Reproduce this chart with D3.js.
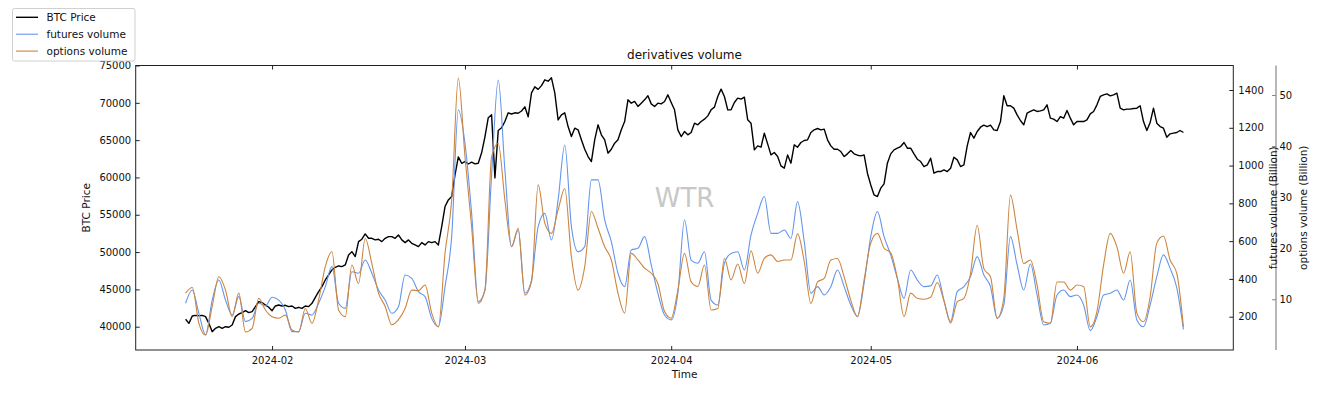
<!DOCTYPE html>
<html>
<head>
<meta charset="utf-8">
<script src="https://cdn.jsdelivr.net/npm/d3@7"></script>
<style>
body { margin: 0; background: #fff; }
svg { display: block; font-family: "DejaVu Sans", sans-serif; }
</style>
</head>
<body>
<div id="canvas"></div>
<script>
// daily volume series start on this day, BTC price is sampled every 12 hours
var START_DAY = '2024-01-19';

var futuresVolume = [
    271, 341, 218, 103, 288, 394, 288, 209, 306, 174,
    191, 271, 257, 303, 288, 235, 121, 121, 218, 209,
    271, 359, 465, 271, 244, 438, 430, 500, 430, 341,
    288, 218, 253, 421, 403, 333, 306, 191, 147, 359,
    624, 1294, 1118, 747, 280, 341, 950, 1453, 977, 571,
    659, 324, 394, 677, 747, 606, 818, 1109, 677, 544,
    571, 924, 924, 712, 597, 430, 359, 553, 562, 624,
    474, 324, 209, 183, 324, 712, 500, 483, 544, 288,
    262, 483, 535, 544, 447, 633, 747, 836, 641, 641,
    659, 615, 809, 597, 324, 359, 315, 359, 447, 359,
    262, 200, 377, 624, 756, 624, 527, 403, 297, 447,
    394, 359, 363, 421, 288, 174, 333, 359, 412, 518,
    421, 359, 191, 262, 624, 474, 341, 479, 315, 156,
    165, 315, 341, 306, 315, 262, 126, 200, 315, 324,
    341, 288, 394, 183, 147, 262, 412, 527, 456, 354,
    133
];

var optionsVolume = [
    11.2, 12.3, 5.3, 3.0, 8.6, 14.4, 11.8, 6.6, 11.2, 3.6,
    4.3, 10.2, 7.9, 6.6, 6.3, 6.9, 4.0, 3.6, 8.2, 5.3,
    9.9, 16.4, 19.3, 7.9, 6.6, 16.7, 13.1, 21.9, 17.0, 11.2,
    8.6, 5.0, 6.0, 8.2, 11.8, 11.7, 12.8, 7.3, 4.6, 19.0,
    29.4, 53.3, 37.9, 24.2, 9.2, 11.8, 37.9, 40.5, 29.4, 20.3,
    23.9, 10.8, 13.4, 32.4, 24.9, 22.9, 27.5, 31.7, 18.3, 11.8,
    16.4, 27.2, 23.9, 20.3, 17.7, 11.2, 7.3, 19.0, 17.7, 16.1,
    15.1, 13.1, 7.6, 6.3, 11.8, 19.0, 13.4, 12.5, 16.7, 7.9,
    8.2, 18.0, 13.8, 16.9, 13.1, 19.5, 15.1, 18.0, 18.7, 17.4,
    17.7, 17.7, 22.8, 17.4, 9.2, 13.4, 14.1, 17.7, 18.0, 14.4,
    9.8, 6.6, 13.8, 21.0, 22.9, 20.0, 19.1, 14.1, 6.6, 11.2,
    10.2, 10.0, 10.4, 13.3, 9.7, 5.3, 9.5, 10.2, 15.1, 24.5,
    16.0, 14.4, 6.3, 10.2, 30.4, 23.6, 17.0, 17.7, 12.8, 5.6,
    5.3, 13.4, 13.4, 11.8, 12.8, 12.5, 4.6, 7.6, 16.7, 22.9,
    20.3, 15.1, 19.3, 7.3, 5.6, 10.5, 21.0, 22.4, 17.7, 15.1,
    4.6
];

var btcPrice = [
    40990, 40450, 41430, 41520, 41480, 41520, 41350, 40450, 39330, 39780,
    40000, 39780, 40000, 39920, 40230, 41350, 41700, 41880, 42150, 41880,
    42020, 42690, 43360, 43220, 42910, 42600, 42150, 42780, 42910, 42780,
    42870, 42690, 42780, 42460, 42600, 42460, 42780, 42690, 43130, 43940,
    44700, 45370, 46260, 46930, 47600, 47960, 48140, 48050, 48270, 49620,
    50060, 49390, 51400, 51720, 52430, 51850, 51850, 51630, 51720, 51400,
    51850, 52070, 52070, 51850, 52300, 51630, 51270, 51630, 51180, 50960,
    50730, 51270, 50960, 51400, 51270, 51400, 50960, 53410, 56100, 56990,
    57440, 60340, 62750, 61900, 62130, 61800, 62050, 61820, 61910, 63300,
    65440, 68000, 68400, 59940, 66300, 66650, 67500, 68660, 68500, 68660,
    68600, 68900, 69460, 68120, 71340, 72140, 71800, 72300, 73080, 72900,
    73350, 71340, 67700, 68390, 68660, 66820, 65480, 66600, 66380, 65040,
    63780, 62800, 62130, 65040, 67050, 65710, 65040, 63250, 63780, 64590,
    65040, 66380, 67490, 70400, 69950, 70180, 69510, 69950, 70400, 70940,
    69860, 69510, 69950, 69860, 70180, 71070, 70040, 69060, 66380, 65480,
    66150, 65710, 66020, 67270, 67050, 67490, 67810, 68250, 69060, 69420,
    70850, 71830, 70850, 69060, 69060, 70040, 70620, 70490, 70760, 67720,
    67270, 63700, 64230, 64050, 65930, 64500, 63020, 63340, 62800, 61550,
    61240, 63020, 61910, 64370, 64050, 64680, 64950, 65040, 66020, 66380,
    66560, 66380, 66470, 65040, 64230, 63780, 63780, 63470, 62800, 63160,
    63610, 63160, 62980, 62890, 63020, 60570, 59000, 57660, 57440, 58560,
    59140, 61910, 63160, 63700, 63920, 64140, 64680, 63920, 63920, 63160,
    62440, 62130, 61460, 61680, 62580, 60570, 60790, 60790, 61010, 60790,
    61240, 62710, 62350, 61460, 61680, 64230, 66020, 65260, 66150, 66730,
    67000, 66820, 67000, 66380, 66290, 67490, 70940, 69600, 69600, 69280,
    68390, 67630, 67050, 68610, 68840, 69060, 68840, 68920, 69060, 69730,
    67940, 67810, 67490, 68160, 67940, 68970, 67940, 67050, 67490, 67490,
    67490, 67720, 68520, 68840, 69730, 70850, 71070, 71200, 70940, 71070,
    71290, 69280, 69060, 69150, 69150, 69240, 69280, 69600, 67490, 66290,
    67360, 69280, 67270, 66820, 66600, 65390, 65840, 65930, 66020, 66290,
    66020
];

var timeTicks = ['2024-02-01', '2024-03-01', '2024-04-01', '2024-05-01', '2024-06-01'];
var priceTicks = [40000, 45000, 50000, 55000, 60000, 65000, 70000, 75000];
var futuresTicks = [200, 400, 600, 800, 1000, 1200, 1400];
var optionsTicks = [10, 20, 30, 40, 50];

var W = 1329, H = 393;
var LEFT = 135.7, RIGHT = 1233.3, TOP = 65.5, BOTTOM = 350;
var SPINE3 = 1276;
var BTC_COLOR = 'black', FUT_COLOR = '#6495ed', OPT_COLOR = '#cd853f';
var TICK_FONT = '10px', LABEL_FONT = '10.5px';

var parseDay = d3.utcParse('%Y-%m-%d');
var start = parseDay(START_DAY);

var svg = d3.select('#canvas').append('svg')
    .attr('width', W)
    .attr('height', H);

var x = d3.scaleUtc()
    .domain([d3.utcHour.offset(start, -180), d3.utcHour.offset(start, 150 * 24 + 180)])
    .range([LEFT, RIGHT]);
var yPrice = d3.scaleLinear().domain([36878, 75000]).range([BOTTOM, TOP]);
var yFut = d3.scaleLinear().domain([23.7, 1529.7]).range([BOTTOM, TOP]);
var yOpt = d3.scaleLinear().domain([0.07, 55.78]).range([BOTTOM, TOP]);

// lines
var btcLine = d3.line()
    .x(function(d, i) { return x(d3.utcHour.offset(start, i * 12)); })
    .y(function(d) { return yPrice(d); });
var futLine = d3.line()
    .curve(d3.curveMonotoneX)
    .x(function(d, i) { return x(d3.utcDay.offset(start, i)); })
    .y(function(d) { return yFut(d); });
var optLine = d3.line()
    .curve(d3.curveMonotoneX)
    .x(function(d, i) { return x(d3.utcDay.offset(start, i)); })
    .y(function(d) { return yOpt(d); });

svg.append('path').attr('d', btcLine(btcPrice))
    .attr('fill', 'none').attr('stroke', BTC_COLOR).attr('stroke-width', 1.4)
    .attr('stroke-linejoin', 'round');
svg.append('path').attr('d', futLine(futuresVolume))
    .attr('fill', 'none').attr('stroke', FUT_COLOR).attr('stroke-width', 1.1)
    .attr('stroke-linejoin', 'round');
svg.append('path').attr('d', optLine(optionsVolume))
    .attr('fill', 'none').attr('stroke', OPT_COLOR).attr('stroke-width', 1.1)
    .attr('stroke-linejoin', 'round');

// watermark
svg.append('text')
    .attr('x', (LEFT + RIGHT) / 2)
    .attr('y', 206.5)
    .attr('text-anchor', 'middle')
    .attr('fill', '#c8c8c8')
    .style('font-size', '26px')
    .text('WTR');

// axes
function styleAxis(g, color) {
    g.select('.domain').remove();
    g.selectAll('.tick line').attr('stroke', color || '#222');
    g.selectAll('.tick text').attr('fill', '#111').style('font-size', TICK_FONT)
        .style('font-family', '"DejaVu Sans", sans-serif');
}

var tickDates = timeTicks.map(parseDay);

svg.append('g')
    .attr('transform', 'translate(0,' + BOTTOM + ')')
    .call(d3.axisBottom(x).tickValues(tickDates).tickFormat(d3.utcFormat('%Y-%m'))
        .tickSizeInner(-4).tickSizeOuter(0).tickPadding(6.5))
    .call(styleAxis);
svg.append('g')
    .attr('transform', 'translate(0,' + TOP + ')')
    .call(d3.axisTop(x).tickValues(tickDates).tickFormat('')
        .tickSizeInner(-4).tickSizeOuter(0))
    .call(styleAxis);
svg.append('g')
    .attr('transform', 'translate(' + LEFT + ',0)')
    .call(d3.axisLeft(yPrice).tickValues(priceTicks).tickFormat(d3.format('d'))
        .tickSizeInner(-4).tickSizeOuter(0).tickPadding(4.5))
    .call(styleAxis);
svg.append('g')
    .attr('transform', 'translate(' + RIGHT + ',0)')
    .call(d3.axisRight(yFut).tickValues(futuresTicks).tickFormat(d3.format('d'))
        .tickSizeInner(-4).tickSizeOuter(0).tickPadding(5))
    .call(styleAxis);
svg.append('g')
    .attr('transform', 'translate(' + SPINE3 + ',0)')
    .call(d3.axisRight(yOpt).tickValues(optionsTicks).tickFormat(d3.format('d'))
        .tickSizeInner(-4).tickSizeOuter(0).tickPadding(3.5))
    .call(styleAxis, '#888');

// frame and the third spine
svg.append('rect')
    .attr('x', LEFT).attr('y', TOP)
    .attr('width', RIGHT - LEFT).attr('height', BOTTOM - TOP)
    .attr('fill', 'none').attr('stroke', '#222').attr('stroke-width', 1);
svg.append('line')
    .attr('x1', SPINE3).attr('x2', SPINE3).attr('y1', TOP).attr('y2', BOTTOM)
    .attr('stroke', '#888').attr('stroke-width', 1.2);

// labels
var midY = (TOP + BOTTOM) / 2;
svg.append('text')
    .attr('x', (LEFT + RIGHT) / 2).attr('y', 58.5)
    .attr('text-anchor', 'middle').attr('fill', '#111')
    .style('font-size', '12px')
    .text('derivatives volume');
svg.append('text')
    .attr('x', (LEFT + RIGHT) / 2).attr('y', 378)
    .attr('text-anchor', 'middle').attr('fill', '#111')
    .style('font-size', LABEL_FONT)
    .text('Time');

function vLabel(cx, txt) {
    svg.append('text')
        .attr('transform', 'translate(' + cx + ',' + midY + ') rotate(-90)')
        .attr('text-anchor', 'middle')
        .attr('dominant-baseline', 'central')
        .attr('fill', '#111')
        .style('font-size', LABEL_FONT)
        .text(txt);
}
vLabel(86, 'BTC Price');
vLabel(1273, 'futures volume (Billion)');
vLabel(1303, 'options volume (Billion)');

// legend
var legendItems = [
    { name: 'BTC Price', color: BTC_COLOR, width: 1.4 },
    { name: 'futures volume', color: FUT_COLOR, width: 1.1 },
    { name: 'options volume', color: OPT_COLOR, width: 1.1 }
];
var legend = svg.append('g');
legend.append('rect')
    .attr('x', 12.5).attr('y', 8.5).attr('width', 122.5).attr('height', 52.5)
    .attr('rx', 2).attr('fill', 'white').attr('stroke', '#d0d0d0');
legendItems.forEach(function(item, k) {
    var ly = 17.3 + k * 16.9;
    legend.append('line')
        .attr('x1', 16).attr('x2', 38).attr('y1', ly).attr('y2', ly)
        .attr('stroke', item.color).attr('stroke-width', item.width);
    legend.append('text')
        .attr('x', 46.5).attr('y', ly)
        .attr('dominant-baseline', 'central')
        .attr('fill', '#111')
        .style('font-size', LABEL_FONT)
        .text(item.name);
});
</script>
</body>
</html>
